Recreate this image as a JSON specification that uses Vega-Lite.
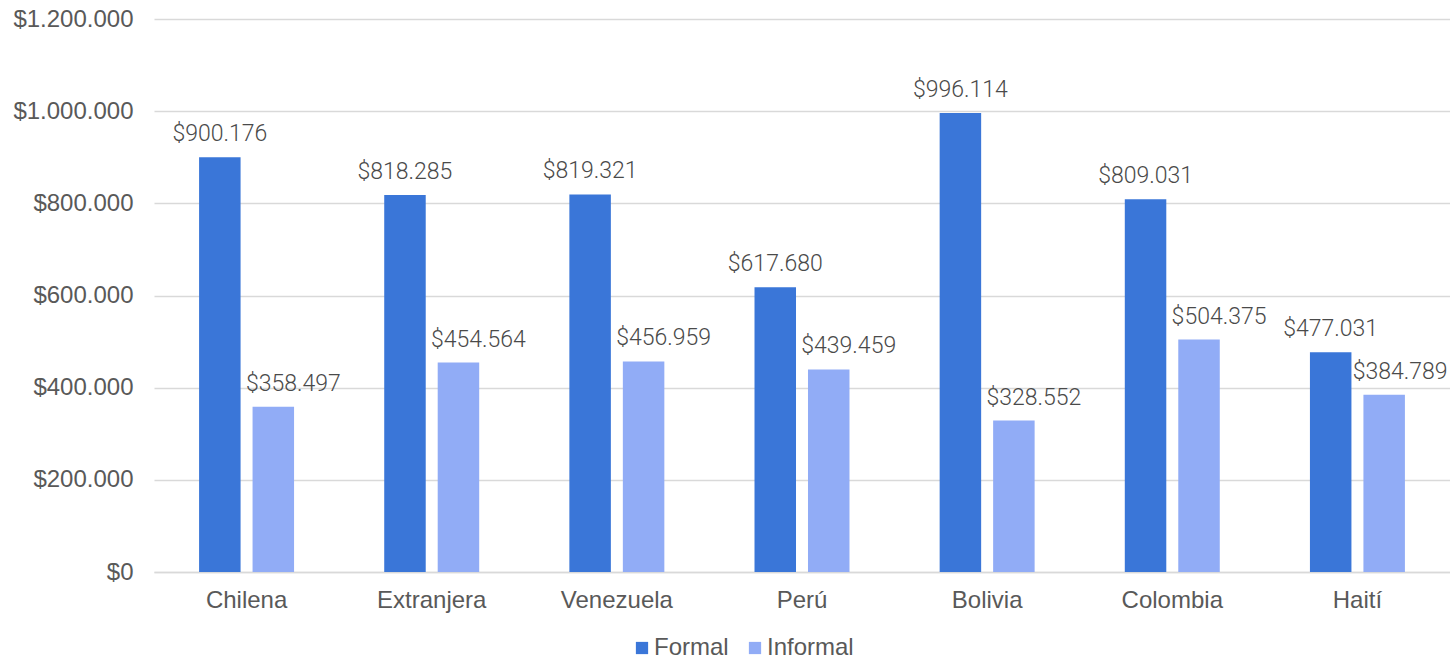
{
  "$schema": "https://vega.github.io/schema/vega-lite/v6.json",
  "autosize": "none",
  "width": 1296,
  "height": 553,
  "padding": {"left": 154, "top": 19, "right": 0, "bottom": 89},
  "background": "white",
  "config": {
    "locale": {"number": {"decimal": ",", "thousands": ".", "grouping": [3], "currency": ["$", ""]}},
    "view": {"stroke": null},
    "font": "Liberation Sans"
  },
  "data": {
    "values": [
      {"pais": "Chilena", "tipo": "Formal", "valor": 900176},
      {"pais": "Chilena", "tipo": "Informal", "valor": 358497},
      {"pais": "Extranjera", "tipo": "Formal", "valor": 818285},
      {"pais": "Extranjera", "tipo": "Informal", "valor": 454564},
      {"pais": "Venezuela", "tipo": "Formal", "valor": 819321},
      {"pais": "Venezuela", "tipo": "Informal", "valor": 456959},
      {"pais": "Perú", "tipo": "Formal", "valor": 617680},
      {"pais": "Perú", "tipo": "Informal", "valor": 439459},
      {"pais": "Bolivia", "tipo": "Formal", "valor": 996114},
      {"pais": "Bolivia", "tipo": "Informal", "valor": 328552},
      {"pais": "Colombia", "tipo": "Formal", "valor": 809031},
      {"pais": "Colombia", "tipo": "Informal", "valor": 504375},
      {"pais": "Haití", "tipo": "Formal", "valor": 477031},
      {"pais": "Haití", "tipo": "Informal", "valor": 384789}
    ]
  },
  "encoding": {
    "x": {
      "field": "pais", "type": "nominal", "sort": null,
      "scale": {"paddingInner": 0.487, "paddingOuter": 0.2435},
      "axis": {"title": null, "labelAngle": 0, "labelFontSize": 24, "labelColor": "#595959", "labelPadding": 16, "ticks": false, "domainColor": "#d9d9d9", "domainWidth": 1.5, "labelFont": "Liberation Sans"}
    },
    "xOffset": {
      "field": "tipo", "type": "nominal",
      "scale": {"paddingInner": 0.224, "paddingOuter": 0}
    },
    "y": {
      "field": "valor", "type": "quantitative",
      "scale": {"domain": [0, 1200000], "nice": false},
      "axis": {"title": null, "format": "$,d", "values": [0, 200000, 400000, 600000, 800000, 1000000, 1200000], "labelOverlap": false, "labelFontSize": 24, "labelColor": "#595959", "labelPadding": 21, "ticks": false, "domain": false, "gridColor": "#d9d9d9", "gridWidth": 1.5, "labelFont": "Liberation Sans"}
    }
  },
  "layer": [
    {
      "mark": {"type": "bar"},
      "encoding": {
        "color": {
          "field": "tipo", "type": "nominal",
          "scale": {"domain": ["Formal", "Informal"], "range": ["#3a76d8", "#91acf6"]},
          "legend": {"title": null, "orient": "none", "legendX": 476, "legendY": 617, "direction": "horizontal", "symbolType": "square", "symbolSize": 150, "symbolStrokeWidth": 0, "labelFontSize": 24, "labelColor": "#595959", "labelFont": "Liberation Sans", "labelOffset": 0, "columnPadding": 14}
        }
      }
    },
    {
      "transform": [{"filter": "datum.tipo === 'Formal'"}],
      "mark": {"type": "text", "baseline": "alphabetic", "dy": -16, "fontSize": 23, "font": "Roboto", "fontWeight": 300, "color": "#4a4a4a"},
      "encoding": {
        "text": {"field": "valor", "type": "quantitative", "format": "$,d"}
      }
    },
    {
      "transform": [{"filter": "datum.tipo === 'Informal' && datum.pais !== 'Haití'"}],
      "mark": {"type": "text", "baseline": "alphabetic", "dy": -16, "dx": 20, "fontSize": 23, "font": "Roboto", "fontWeight": 300, "color": "#4a4a4a"},
      "encoding": {
        "text": {"field": "valor", "type": "quantitative", "format": "$,d"}
      }
    },
    {
      "transform": [{"filter": "datum.tipo === 'Informal' && datum.pais === 'Haití'"}],
      "mark": {"type": "text", "baseline": "alphabetic", "dy": -16, "dx": 16, "fontSize": 23, "font": "Roboto", "fontWeight": 300, "color": "#4a4a4a"},
      "encoding": {
        "text": {"field": "valor", "type": "quantitative", "format": "$,d"}
      }
    }
  ]
}
